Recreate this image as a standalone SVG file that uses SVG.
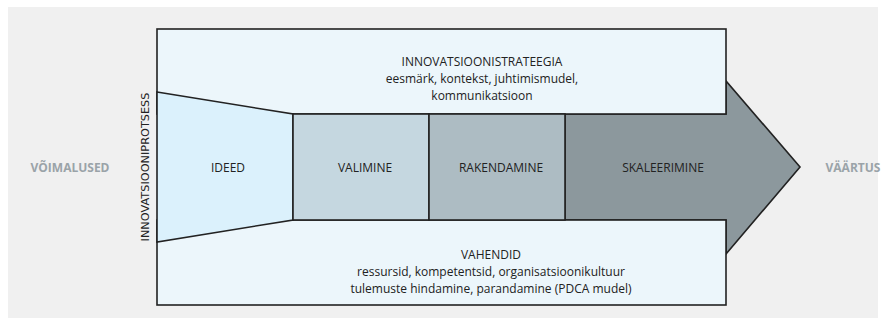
<svg xmlns="http://www.w3.org/2000/svg" width="885" height="325" viewBox="0 0 885 325">
<style>
  .edge{stroke:#222;stroke-width:1.6;stroke-linejoin:miter}
  .t{font-family:"Open Sans","Liberation Sans",sans-serif;font-size:12px;fill:#222;text-anchor:middle}
  .side{font-family:"Open Sans","Liberation Sans",sans-serif;font-size:12px;font-weight:bold;fill:#9aa3a8;text-anchor:middle}
  .vert{font-family:"DejaVu Sans","Open Sans",sans-serif;font-size:11.3px;fill:#222;text-anchor:middle}
</style>
<rect x="0" y="0" width="885" height="325" fill="#ffffff"/>
<rect x="8" y="7" width="870" height="311" fill="#f0f0f0"/>
<g id="arrow-skaleerimine">
  <polygon class="edge" points="565,114 726,114 726,81 800,167 726,254 726,220 565,220" fill="#8c989d"/>
  <text class="t" x="663" y="171.5">SKALEERIMINE</text>
</g>
<g id="strateegia">
  <rect class="edge" x="157" y="29" width="569" height="85" fill="#ecf6fb"/>
  <text class="t" x="482" y="65.5">INNOVATSIOONISTRATEEGIA</text>
  <text class="t" x="482" y="83">eesmärk, kontekst, juhtimismudel,</text>
  <text class="t" x="482" y="100">kommunikatsioon</text>
</g>
<g id="vahendid">
  <rect class="edge" x="157" y="220" width="569" height="85" fill="#ecf6fb"/>
  <text class="t" x="491" y="259">VAHENDID</text>
  <text class="t" x="491" y="276">ressursid, kompetentsid, organisatsioonikultuur</text>
  <text class="t" x="491" y="293">tulemuste hindamine, parandamine (PDCA mudel)</text>
</g>
<g id="ideed">
  <polygon class="edge" points="157,92 293,114 293,220 157,242" fill="#dbf1fc"/>
  <text class="t" x="228" y="171.5">IDEED</text>
</g>
<g id="valimine">
  <rect class="edge" x="293" y="114" width="136" height="106" fill="#c5d7e0"/>
  <text class="t" x="365" y="171.5">VALIMINE</text>
</g>
<g id="rakendamine">
  <rect class="edge" x="429" y="114" width="136" height="106" fill="#adbcc3"/>
  <text class="t" x="501" y="171.5">RAKENDAMINE</text>
</g>
<g id="protsess">
  <text class="vert" transform="translate(149,167) rotate(-90)" x="0" y="0">INNOVATSIOONIPROTSESS</text>
</g>
<g id="voimalused">
  <text class="side" x="70" y="171.5">VÕIMALUSED</text>
</g>
<g id="vaartus">
  <text class="side" x="853" y="171.5">VÄÄRTUS</text>
</g>
<g id="connectors"></g>
</svg>
